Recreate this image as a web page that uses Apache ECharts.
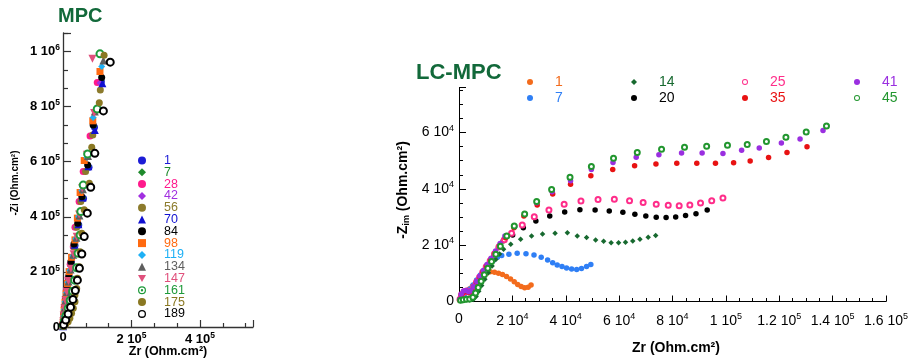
<!DOCTYPE html>
<html>
<head>
<meta charset="utf-8">
<script src="https://cdn.jsdelivr.net/npm/echarts@6/dist/echarts.min.js"></script>
<style>html,body{margin:0;padding:0;background:#fff}#c{width:914px;height:358px}</style>
</head>
<body>
<div id="c"></div>
<script>
// ---------- MPC (left panel) ----------
const mpcNames = ['1','7','28','42','56','70','84','98','119','134','147','161','175','189'];
const mpc1 = [[0.1e3,3e3],[0.5e3,12e3],[1.5e3,28e3],[3e3,48e3],[5e3,74e3],[8e3,104e3],[13e3,140e3],[18e3,182e3],[25e3,233e3],[35e3,296e3],[46e3,370e3],[60e3,466e3],[76e3,580e3],[92e3,725e3],[112e3,890e3]];
const mpc7 = [[0.1e3,3e3],[0.5e3,13e3],[1.5e3,29e3],[3e3,49e3],[5e3,75e3],[8e3,105e3],[12e3,141e3],[17e3,183e3],[24e3,235e3],[34e3,298e3],[45e3,372e3],[58e3,469e3],[74e3,584e3],[90e3,728e3],[110e3,893e3]];
const mpc28 = [[0,2e3],[0.3e3,10e3],[1e3,26e3],[2e3,46e3],[4e3,72e3],[7e3,102e3],[10e3,137e3],[15e3,178e3],[21e3,228e3],[30e3,291e3],[35e3,362e3],[47e3,455e3],[59e3,564e3],[79e3,693e3],[100e3,887e3]];
const mpc42 = [[0,2e3],[0.3e3,11e3],[1e3,27e3],[2e3,47e3],[4e3,73e3],[7e3,103e3],[11e3,138e3],[16e3,179e3],[22e3,230e3],[31e3,293e3],[38e3,364e3],[50e3,458e3],[66e3,566e3],[86e3,698e3],[108e3,885e3]];
const mpc56 = [[0.1e3,2e3],[0.5e3,10e3],[1.5e3,26e3],[3e3,46e3],[5e3,72e3],[8e3,102e3],[12e3,137e3],[17e3,178e3],[24e3,228e3],[32e3,291e3],[40e3,362e3],[52e3,455e3],[66e3,564e3],[87e3,697e3],[109e3,860e3]];
const mpc70 = [[0.1e3,3e3],[0.5e3,13e3],[1.5e3,29e3],[3e3,49e3],[5e3,75e3],[9e3,105e3],[13e3,141e3],[18e3,183e3],[25e3,234e3],[34e3,298e3],[45e3,373e3],[57e3,470e3],[74e3,583e3],[93e3,715e3],[115e3,884e3]];
const mpc84 = [[0.2e3,5e3],[0.5e3,15e3],[1.5e3,30e3],[3e3,50e3],[5e3,75e3],[8e3,105e3],[12e3,142e3],[17e3,185e3],[23e3,237e3],[32e3,301e3],[43e3,376e3],[55e3,473e3],[72e3,588e3],[88e3,733e3],[113e3,905e3]];
const mpc98 = [[0.2e3,5e3],[0.8e3,18e3],[2e3,38e3],[3.5e3,62e3],[6e3,90e3],[9e3,121e3],[13e3,158e3],[18e3,201e3],[25e3,253e3],[35e3,316e3],[42e3,395e3],[50e3,488e3],[62e3,604e3],[87e3,748e3],[108e3,927e3]];
const mpc119 = [[0.2e3,5e3],[0.8e3,19e3],[2e3,40e3],[4e3,64e3],[6e3,92e3],[10e3,124e3],[14e3,162e3],[20e3,206e3],[28e3,258e3],[37e3,320e3],[45e3,400e3],[55e3,495e3],[70e3,615e3],[88e3,760e3],[113e3,945e3]];
const mpc134 = [[0.2e3,5e3],[0.9e3,20e3],[2e3,41e3],[4e3,66e3],[7e3,95e3],[11e3,127e3],[16e3,165e3],[22e3,209e3],[30e3,262e3],[39e3,324e3],[48e3,405e3],[58e3,500e3],[73e3,620e3],[93e3,782e3],[118e3,967e3]];
const mpc147 = [[0.2e3,5e3],[0.9e3,21e3],[2e3,42e3],[4e3,67e3],[7e3,96e3],[11e3,128e3],[16e3,167e3],[23e3,211e3],[31e3,264e3],[40e3,327e3],[47e3,408e3],[56e3,503e3],[70e3,625e3],[91e3,776e3],[86e3,973e3]];
const mpc161 = [[1e3,6e3],[4e3,22e3],[9e3,43e3],[15e3,68e3],[21e3,97e3],[28e3,130e3],[34e3,170e3],[40e3,215e3],[44e3,268e3],[50e3,334e3],[52e3,419e3],[59e3,515e3],[72e3,628e3],[100e3,791e3],[108e3,991e3]];
const mpc175 = [[2e3,3e3],[8e3,10e3],[15e3,19e3],[20e3,32e3],[25e3,50e3],[30e3,68e3],[35e3,92e3],[35e3,116e3],[40e3,140e3],[42e3,177e3],[48e3,219e3],[50e3,273e3],[55e3,340e3],[62e3,425e3],[77e3,522e3],[84e3,652e3],[106e3,814e3],[120e3,986e3]];
const mpc189 = [[2e3,8e3],[8e3,25e3],[15e3,47e3],[22e3,72e3],[29e3,100e3],[36e3,132e3],[42e3,170e3],[48e3,213e3],[55e3,265e3],[62e3,328e3],[71e3,413e3],[81e3,507e3],[93e3,630e3],[118e3,784e3],[138e3,961e3]];
const mpcData = [mpc1,mpc7,mpc28,mpc42,mpc56,mpc70,mpc84,mpc98,mpc119,mpc134,mpc147,mpc161,mpc175,mpc189];

// ---------- LC-MPC (right panel) ----------
const lcNames = ['1','7','14','20','25','35','41','45'];
const lc1 = [[0.2e3,0.4e3],[0.6e3,1.4e3],[1.2e3,2.2e3],[2.0e3,2.9e3],[2.9e3,3.6e3],[3.9e3,4.4e3],[5.0e3,5.4e3],[6.2e3,6.5e3],[7.5e3,7.8e3],[8.9e3,9.0e3],[10.3e3,10.0e3],[11.7e3,10.6e3],[13.3e3,10.4e3],[14.8e3,10.0e3],[16.3e3,9.6e3],[17.8e3,8.9e3],[19.3e3,8.0e3],[20.7e3,7.0e3],[22.0e3,6.0e3],[23.3e3,5.3e3],[24.6e3,4.9e3],[25.9e3,5.1e3],[27.0e3,5.9e3]];
const lc7 = [[0.3e3,0.5e3],[1.0e3,1.6e3],[2.0e3,2.6e3],[3.0e3,3.4e3],[4.1e3,4.4e3],[5.3e3,5.9e3],[6.6e3,7.6e3],[8.0e3,9.4e3],[9.5e3,11.2e3],[11.1e3,13.0e3],[12.8e3,14.6e3],[14.4e3,15.7e3],[16.0e3,16.3e3],[18.7e3,16.8e3],[21.8e3,17.1e3],[25.1e3,17.0e3],[28.1e3,16.5e3],[30.8e3,15.7e3],[33.2e3,14.7e3],[35.1e3,13.8e3],[36.8e3,13.0e3],[38.6e3,12.4e3],[40.3e3,11.9e3],[42.2e3,11.5e3],[44.1e3,11.4e3],[45.9e3,11.7e3],[47.8e3,12.4e3],[49.4e3,13.1e3]];
const lc14 = [[0.5e3,0.3e3],[1.5e3,0.5e3],[2.8e3,0.6e3],[4.0e3,0.5e3],[5.3e3,0.7e3],[6.4e3,1.8e3],[7.4e3,3.6e3],[8.5e3,5.7e3],[9.7e3,7.9e3],[11.0e3,10.2e3],[12.4e3,12.6e3],[13.8e3,14.9e3],[15.2e3,16.9e3],[16.7e3,18.6e3],[19.4e3,20.3e3],[23.1e3,22.1e3],[27.2e3,23.3e3],[31.3e3,24.0e3],[36.0e3,24.2e3],[40.6e3,24.4e3],[44.3e3,23.3e3],[47.8e3,22.7e3],[51.2e3,21.8e3],[54.2e3,21.4e3],[57.0e3,20.9e3],[59.8e3,20.9e3],[62.4e3,21.0e3],[65.1e3,21.5e3],[67.8e3,22.1e3],[70.9e3,22.8e3],[73.7e3,23.4e3]];
const lc20 = [[0.3e3,0.6e3],[0.9e3,2.2e3],[1.8e3,3.2e3],[2.8e3,3.4e3],[3.7e3,3.2e3],[4.6e3,3.6e3],[5.5e3,5.0e3],[6.5e3,6.6e3],[7.6e3,8.3e3],[8.8e3,10.1e3],[10.1e3,12.0e3],[11.5e3,14.2e3],[13.1e3,16.6e3],[14.8e3,19.2e3],[16.6e3,21.6e3],[20.1e3,23.6e3],[24.1e3,26.2e3],[28.8e3,28.6e3],[34.0e3,30.4e3],[39.6e3,31.8e3],[45.3e3,32.6e3],[51.0e3,32.5e3],[56.3e3,32.1e3],[61.4e3,31.7e3],[65.9e3,31.0e3],[70.0e3,30.4e3],[73.9e3,29.9e3],[77.6e3,29.8e3],[81.2e3,30.0e3],[84.9e3,30.5e3],[88.8e3,31.2e3],[93.0e3,32.5e3]];
const lc25 = [[0.4e3,0.8e3],[1.0e3,2.5e3],[1.9e3,3.5e3],[2.9e3,3.7e3],[3.8e3,3.4e3],[4.7e3,3.8e3],[5.6e3,5.2e3],[6.6e3,6.9e3],[7.7e3,8.6e3],[8.9e3,10.4e3],[10.2e3,12.3e3],[11.7e3,14.5e3],[13.3e3,16.9e3],[15.0e3,19.4e3],[17.0e3,21.9e3],[19.7e3,24.2e3],[23.7e3,27.2e3],[28.2e3,30.1e3],[33.7e3,32.5e3],[39.4e3,34.5e3],[45.7e3,35.7e3],[52.1e3,36.2e3],[58.2e3,36.3e3],[63.9e3,35.8e3],[69.0e3,35.2e3],[73.9e3,34.5e3],[78.4e3,34.2e3],[82.5e3,34.0e3],[86.5e3,34.3e3],[90.5e3,35.0e3],[94.7e3,35.8e3],[98.9e3,36.8e3]];
const lc35 = [[0.3e3,0.7e3],[0.9e3,2.4e3],[1.8e3,3.4e3],[2.8e3,3.6e3],[3.7e3,3.3e3],[4.6e3,3.7e3],[5.6e3,5.2e3],[6.6e3,6.9e3],[7.8e3,8.7e3],[9.0e3,10.6e3],[10.4e3,12.6e3],[11.9e3,14.8e3],[13.6e3,17.3e3],[15.4e3,19.9e3],[17.4e3,22.6e3],[20.6e3,26.2e3],[24.3e3,30.4e3],[29.3e3,34.3e3],[35.1e3,38.2e3],[41.8e3,41.6e3],[49.4e3,44.7e3],[57.6e3,46.9e3],[65.8e3,48.2e3],[73.8e3,48.8e3],[81.6e3,49.1e3],[89.1e3,49.1e3],[96.1e3,49.1e3],[102.9e3,49.3e3],[109.1e3,49.9e3],[116.0e3,51.1e3],[122.9e3,52.9e3],[130.4e3,55.0e3]];
const lc41 = [[0.3e3,0.8e3],[0.8e3,2.6e3],[1.7e3,3.7e3],[2.7e3,3.9e3],[3.6e3,3.5e3],[4.5e3,3.8e3],[5.5e3,5.3e3],[6.6e3,7.1e3],[7.8e3,9.0e3],[9.1e3,11.0e3],[10.5e3,13.1e3],[12.0e3,15.4e3],[13.7e3,17.9e3],[15.4e3,20.6e3],[17.2e3,23.3e3],[20.9e3,26.6e3],[24.7e3,31.0e3],[29.1e3,35.1e3],[34.9e3,39.0e3],[41.8e3,42.9e3],[49.6e3,46.9e3],[57.7e3,49.4e3],[66.4e3,51.2e3],[74.9e3,52.1e3],[83.4e3,52.7e3],[91.1e3,52.7e3],[98.9e3,52.6e3],[105.9e3,53.7e3],[112.5e3,54.5e3],[120.8e3,56.3e3],[127.8e3,57.7e3],[136.4e3,60.7e3]];
const lc45 = [[0.6e3,0.4e3],[1.6e3,0.6e3],[2.8e3,0.8e3],[4.0e3,0.9e3],[5.2e3,1.5e3],[6.2e3,3.0e3],[7.2e3,5.0e3],[8.3e3,7.2e3],[9.5e3,9.5e3],[10.8e3,11.8e3],[12.2e3,14.2e3],[13.8e3,16.8e3],[15.5e3,19.6e3],[17.9e3,23.3e3],[20.7e3,26.8e3],[24.6e3,31.1e3],[29.1e3,35.5e3],[34.7e3,39.8e3],[41.6e3,44.1e3],[49.6e3,47.9e3],[57.9e3,50.9e3],[66.8e3,52.9e3],[75.9e3,54.1e3],[84.5e3,54.8e3],[92.8e3,55.1e3],[100.6e3,55.5e3],[108.0e3,55.8e3],[115.2e3,56.8e3],[122.5e3,58.3e3],[130.1e3,60.2e3],[137.7e3,62.3e3]];
const lcData = [lc1,lc7,lc14,lc20,lc25,lc35,lc41,lc45];

// ---------- styles ----------
const F = '"Liberation Sans", Arial, Helvetica, sans-serif';
const triDown = 'path://M0,0 L10,0 L5,9 Z';
const ring = 'path://M10,0 A10,10 0 1,0 -10,0 A10,10 0 1,0 10,0 Z M6.8,0 A6.8,6.8 0 1,1 -6.8,0 A6.8,6.8 0 1,1 6.8,0 Z';
const ringDot = 'path://M10,0 A10,10 0 1,0 -10,0 A10,10 0 1,0 10,0 Z M7,0 A7,7 0 1,1 -7,0 A7,7 0 1,1 7,0 Z M3,0 A3,3 0 1,0 -3,0 A3,3 0 1,0 3,0 Z';
const mpcSym = ['circle','diamond','circle','diamond','circle','triangle','circle','rect','diamond','triangle',triDown,'emptyCircle','circle','emptyCircle'];
const mpcIcon = ['circle','diamond','circle','diamond','circle','triangle','circle','rect','diamond','triangle',triDown,ringDot,'circle',ring];
const mpcCol = ['#1c1cd6','#1e8a2c','#ff1a8c','#a12fe0','#8c7b2c','#1010d0','#000000','#ff6a10','#1eb0f5','#5e5e5e','#e0507c','#1e9a3a','#8a7822','#000000'];
const mpcSize = [7,7,7,7,7,8,7,7,7,8,8,7,7,7];
const lcSym = ['circle','circle','diamond','circle','emptyCircle','circle','circle','emptyCircle'];
const lcIcon = ['circle','circle','diamond','circle',ring,'circle','circle',ring];
const lcCol = ['#f36b1c','#2f7ff5','#17692f','#000000','#ff2d8a','#e81212','#9a2fe0','#22962f'];

function sciFmt(step) {
  return function (v) {
    if (Math.abs(v) < 1e-6) return '0';
    const r = v / step;
    if (Math.abs(r - Math.round(r)) > 1e-6) return '';
    const e = Math.floor(Math.log10(v) + 1e-9);
    const m = Math.round(v / Math.pow(10, e) * 10) / 10;
    return '{m|' + m + ' 10}{e|' + e + '}';
  };
}

const series = [];
mpcNames.forEach((n, i) => {
  series.push({
    type: 'scatter', name: 'a' + n, xAxisIndex: 0, yAxisIndex: 0,
    data: mpcData[i], symbol: mpcSym[i], symbolSize: mpcSize[i],
    itemStyle: { color: mpcCol[i], borderColor: mpcCol[i], borderWidth: mpcSym[i] === 'emptyCircle' ? 1.3 : 0, opacity: 1 },
    emphasis: { disabled: true }, clip: false, animation: false
  });
});
lcNames.forEach((n, i) => {
  series.push({
    type: 'scatter', name: 'b' + n, xAxisIndex: 1, yAxisIndex: 1,
    data: lcData[i], symbol: lcSym[i], symbolSize: lcSym[i] === 'emptyCircle' ? 5 : 5.5,
    itemStyle: { color: lcCol[i], borderColor: lcCol[i], borderWidth: lcSym[i] === 'emptyCircle' ? 1.2 : 0, opacity: 1 },
    emphasis: { disabled: true }, clip: false, animation: false
  });
});

const leftRich = {
  m: { fontSize: 13, fontWeight: 'bold', fontFamily: F, color: '#000', lineHeight: 16 },
  e: { fontSize: 8.5, fontWeight: 'bold', fontFamily: F, color: '#000', lineHeight: 9, verticalAlign: 'top' }
};
const rightRich = {
  m: { fontSize: 14, fontFamily: F, color: '#000', lineHeight: 18 },
  e: { fontSize: 9, fontFamily: F, color: '#000', lineHeight: 10, verticalAlign: 'top' }
};

const legendLeft = {
  orient: 'vertical', left: 133, top: 149, itemWidth: 8, itemHeight: 8, itemGap: -1.2,
  selectedMode: false,
  formatter: n => n.slice(1),
  textStyle: { fontSize: 12.5, fontFamily: F, padding: [0, 0, 0, 13] },
  data: mpcNames.map((n, i) => ({ name: 'a' + n, icon: mpcIcon[i], itemStyle: { color: mpcCol[i], borderWidth: 0 }, textStyle: { color: mpcCol[i] } }))
};
const colCenter = [525, 629, 740, 852];
const legendsRight = [0, 1, 2, 3].map(c => ({
  orient: 'vertical', left: colCenter[c] - 3, top: 70, itemWidth: 6, itemHeight: 6, itemGap: 2,
  selectedMode: false,
  formatter: n => n.slice(1),
  textStyle: { fontSize: 14, fontFamily: F, padding: [0, 0, 0, 17] },
  data: [2 * c, 2 * c + 1].map(i => ({ name: 'b' + lcNames[i], icon: lcIcon[i], itemStyle: { color: lcCol[i], borderWidth: 0 }, textStyle: { color: lcCol[i] } }))
}));

const option = {
  backgroundColor: '#fff',
  animation: false,
  grid: [
    { left: 63, top: 33, width: 190, height: 294, outerBoundsMode: 'none', containLabel: false },
    { left: 459, top: 87.5, width: 427, height: 214, outerBoundsMode: 'none', containLabel: false }
  ],
  xAxis: [
    { type: 'value', gridIndex: 0, min: 0, max: 5.55e5, interval: 2e5,
      axisLine: { lineStyle: { color: '#333', width: 1.3 } },
      axisTick: { inside: true, length: 7, lineStyle: { color: '#333', width: 1.2 } },
      minorTick: { show: true, splitNumber: 3, length: 4, lineStyle: { color: '#333', width: 1.2 } },
      splitLine: { show: false },
      axisLabel: { margin: 4, fontSize: 13, fontWeight: 'bold', fontFamily: F, color: '#000', formatter: sciFmt(2e5), rich: leftRich } },
    { type: 'value', gridIndex: 1, min: 0, max: 1.6e5, interval: 2e4,
      axisLine: { lineStyle: { color: '#000', width: 1 } },
      axisTick: { inside: true, length: 6, lineStyle: { color: '#000', width: 1 } },
      minorTick: { show: true, splitNumber: 4, length: 3.5, lineStyle: { color: '#000', width: 1 } },
      splitLine: { show: false },
      axisLabel: { margin: 11, fontSize: 14, fontFamily: F, color: '#000', formatter: sciFmt(2e4), rich: rightRich } }
  ],
  yAxis: [
    { type: 'value', gridIndex: 0, min: 0, max: 1.0667e6, interval: 2e5,
      axisLine: { onZero: false, lineStyle: { color: '#333', width: 1.3 } },
      axisTick: { inside: true, length: 8, lineStyle: { color: '#333', width: 1.2 } },
      minorTick: { show: true, splitNumber: 3, length: 5, lineStyle: { color: '#333', width: 1.2 } },
      splitLine: { show: false },
      axisLabel: { margin: 3, fontSize: 13, fontWeight: 'bold', fontFamily: F, color: '#000', formatter: sciFmt(2e5), rich: leftRich } },
    { type: 'value', gridIndex: 1, min: 0, max: 7.6e4, interval: 2e4,
      axisLine: { onZero: false, lineStyle: { color: '#000', width: 1 } },
      axisTick: { inside: true, length: 7, lineStyle: { color: '#000', width: 1 } },
      minorTick: { show: true, splitNumber: 4, length: 4, lineStyle: { color: '#000', width: 1 } },
      splitLine: { show: false },
      axisLabel: { margin: 5, fontSize: 14, fontFamily: F, color: '#000', formatter: sciFmt(2e4), rich: rightRich } }
  ],
  legend: [legendLeft].concat(legendsRight),
  graphic: [
    { type: 'text', left: 58, top: 6, style: { text: 'MPC', fontSize: 20, fontWeight: 'bold', fontFamily: F, fill: '#12693a' } },
    { type: 'text', left: 416, top: 62, style: { text: 'LC-MPC', fontSize: 22, fontWeight: 'bold', fontFamily: F, fill: '#12693a' } },
    { type: 'text', x: 15, y: 183, rotation: Math.PI / 2,
      style: { text: '-Zi (Ohm.cm²)', fontSize: 10, fontWeight: 'bold', fontFamily: F, fill: '#000', align: 'center', verticalAlign: 'middle', textAlign: 'center', textVerticalAlign: 'middle' } },
    { type: 'text', x: 168, y: 352,
      style: { text: 'Zr (Ohm.cm²)', fontSize: 12.5, fontWeight: 'bold', fontFamily: F, fill: '#000', align: 'center', verticalAlign: 'middle', textAlign: 'center', textVerticalAlign: 'middle' } },
    { type: 'text', x: 676, y: 348,
      style: { text: 'Zr (Ohm.cm²)', fontSize: 14, fontWeight: 'bold', fontFamily: F, fill: '#000', align: 'center', verticalAlign: 'middle', textAlign: 'center', textVerticalAlign: 'middle' } },
    { type: 'text', x: 403, y: 190, rotation: Math.PI / 2,
      style: { text: '{a|-Z}{s|im}{a| (Ohm.cm²)}', fill: '#000', align: 'center', verticalAlign: 'middle', textAlign: 'center', textVerticalAlign: 'middle',
        rich: { a: { fontSize: 14, fontWeight: 'bold', fontFamily: F, lineHeight: 17 },
                s: { fontSize: 9, fontWeight: 'bold', fontFamily: F, lineHeight: 9, verticalAlign: 'bottom' } } } }
  ],
  series: series
};

const chart = echarts.init(document.getElementById('c'), null, { renderer: 'canvas' });
chart.setOption(option);
</script>
</body>
</html>
